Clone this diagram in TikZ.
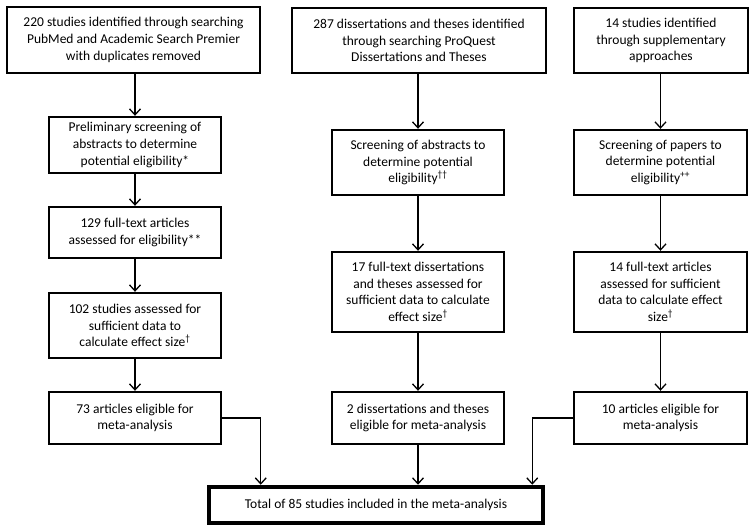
\documentclass[tikz,border=0pt]{standalone}
\usepackage{fontspec}
\setmainfont{Carlito}
\usetikzlibrary{arrows.meta}
\begin{document}
\begin{tikzpicture}[x=1pt,y=-1pt,
  box/.style={draw, line width=2.4pt, inner sep=0pt, align=center,
    font=\fontsize{13.5}{16.7}\selectfont},
  arr/.style={line width=1.2pt, -{Straight Barb[length=6pt,width=11pt,line width=1.3pt]}},
  conn/.style={line width=1.2pt}]
\useasboundingbox (0,0) rectangle (754,532);
\node[box, minimum width=253pt, minimum height=66pt] (A1) at (133.5,40)
  {220 studies identified through searching\\PubMed and Academic Search Premier\\with duplicates removed};
\node[box, minimum width=254pt, minimum height=65pt] (B1) at (419,40.5)
  {287 dissertations and theses identified\\through searching ProQuest\\Dissertations and Theses};
\node[box, minimum width=174pt, minimum height=65pt] (C1) at (661,40.5)
  {14 studies identified\\through supplementary\\approaches};
\node[box, minimum width=172pt, minimum height=56pt] (A2) at (135,145)
  {Preliminary screening of\\abstracts to determine\\potential eligibility*};
\node[box, minimum width=172pt, minimum height=51pt] (A3) at (135,232.5)
  {129 full-text articles\\assessed for eligibility**};
\node[box, minimum width=172pt, minimum height=65pt] (A4) at (135,325.5)
  {102 studies assessed for\\sufficient data to\\calculate effect size\textsuperscript{†}};
\node[box, minimum width=172pt, minimum height=52pt] (A5) at (135,418)
  {73 articles eligible for\\meta-analysis};
\node[box, minimum width=172pt, minimum height=65pt] (B2) at (418,162.5)
  {Screening of abstracts to\\determine potential\\eligibility\textsuperscript{††}};
\node[box, minimum width=172pt, minimum height=80pt] (B3) at (418,292)
  {17 full-text dissertations\\and theses assessed for\\sufficient data to calculate\\effect size\textsuperscript{†}};
\node[box, minimum width=172pt, minimum height=52pt] (B5) at (418,418)
  {2 dissertations and theses\\eligible for meta-analysis};
\node[box, minimum width=173pt, minimum height=65pt] (C2) at (660.5,162.5)
  {Screening of papers to\\determine potential\\eligibility\textsuperscript{++}};
\node[box, minimum width=173pt, minimum height=80pt] (C3) at (660.5,292)
  {14 full-text articles\\assessed for sufficient\\data to calculate effect\\size\textsuperscript{†}};
\node[box, minimum width=173pt, minimum height=52pt] (C5) at (660.5,418)
  {10 articles eligible for\\meta-analysis};
\node[box, line width=4.5pt, minimum width=334pt, minimum height=36pt] (F) at (376,505)
  {Total of 85 studies included in the meta-analysis};
\draw[arr] (A1.south -| A2.north) -- (A2.north);
\draw[arr] (A2) -- (A3);
\draw[arr] (A3) -- (A4);
\draw[arr] (A4) -- (A5);
\draw[arr] (B1.south -| B2.north) -- (B2.north);
\draw[arr] (B2) -- (B3);
\draw[arr] (B3) -- (B5);
\draw[arr] (C1.south -| C2.north) -- (C2.north);
\draw[arr] (C2) -- (C3);
\draw[arr] (C3) -- (C5);
\draw[arr] (A5.east) -| ([xshift=54pt]F.north west);
\draw[arr] (B5.south) -- (B5.south |- F.north);
\draw[arr] (C5.west) -| ([xshift=-13pt]F.north east);
\end{tikzpicture}
\end{document}
